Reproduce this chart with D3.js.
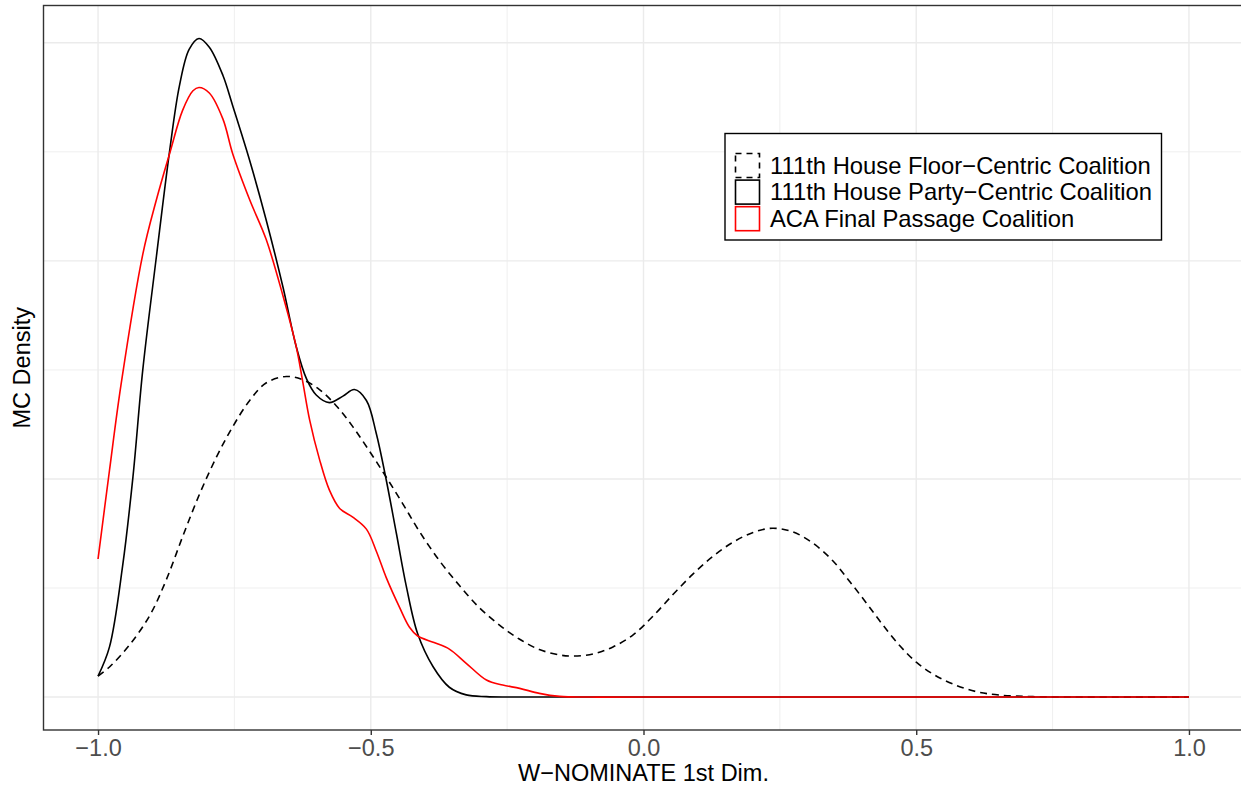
<!DOCTYPE html>
<html>
<head>
<meta charset="utf-8">
<script src="https://cdn.jsdelivr.net/npm/d3@7"></script>
<style>
  body { margin: 0; background: #fff; }
  text { font-family: "Liberation Sans", Arial, Helvetica, sans-serif; }
</style>
</head>
<body>
<div class="container"></div>
<script>
// series: [W-NOMINATE 1st dim, density]
const floorCentric = [[-1.000,0.096],[-0.979,0.138],[-0.942,0.24],[-0.905,0.375],[-0.875,0.537],[-0.845,0.735],[-0.814,0.93],[-0.783,1.10],[-0.753,1.24],[-0.722,1.36],[-0.692,1.44],[-0.655,1.47],[-0.625,1.455],[-0.594,1.41],[-0.563,1.335],[-0.533,1.24],[-0.503,1.13],[-0.472,1.01],[-0.441,0.885],[-0.411,0.76],[-0.374,0.625],[-0.337,0.51],[-0.301,0.41],[-0.264,0.33],[-0.227,0.265],[-0.191,0.218],[-0.154,0.193],[-0.129,0.188],[-0.092,0.198],[-0.056,0.23],[-0.019,0.285],[0.017,0.37],[0.054,0.47],[0.091,0.565],[0.127,0.645],[0.164,0.71],[0.201,0.755],[0.236,0.774],[0.274,0.757],[0.311,0.705],[0.347,0.625],[0.378,0.53],[0.409,0.43],[0.439,0.33],[0.470,0.235],[0.500,0.16],[0.531,0.105],[0.567,0.06],[0.610,0.025],[0.653,0.009],[0.714,0.002],[0.800,0],[1.000,0]];

const partyCentric = [[-1.000,0.096],[-0.979,0.23],[-0.955,0.60],[-0.936,1.01],[-0.918,1.50],[-0.893,2.02],[-0.869,2.50],[-0.851,2.80],[-0.833,2.97],[-0.815,3.02],[-0.796,2.98],[-0.771,2.85],[-0.753,2.71],[-0.722,2.46],[-0.692,2.19],[-0.661,1.88],[-0.637,1.61],[-0.618,1.46],[-0.600,1.385],[-0.576,1.35],[-0.551,1.38],[-0.530,1.41],[-0.508,1.36],[-0.490,1.21],[-0.472,1.00],[-0.453,0.75],[-0.435,0.51],[-0.414,0.29],[-0.386,0.14],[-0.356,0.045],[-0.325,0.01],[-0.288,0.002],[-0.250,0],[0.000,0],[1.000,0]];

const acaPassage = [[-1.000,0.633],[-0.979,1.04],[-0.958,1.43],[-0.918,2.03],[-0.893,2.28],[-0.869,2.49],[-0.845,2.69],[-0.826,2.78],[-0.815,2.795],[-0.796,2.77],[-0.771,2.65],[-0.753,2.49],[-0.722,2.28],[-0.692,2.10],[-0.661,1.84],[-0.637,1.61],[-0.625,1.45],[-0.612,1.27],[-0.594,1.09],[-0.576,0.95],[-0.557,0.865],[-0.533,0.825],[-0.508,0.77],[-0.490,0.67],[-0.472,0.55],[-0.447,0.41],[-0.429,0.32],[-0.414,0.28],[-0.384,0.25],[-0.356,0.22],[-0.325,0.155],[-0.288,0.078],[-0.258,0.055],[-0.227,0.04],[-0.191,0.017],[-0.154,0.003],[-0.100,0],[0.000,0],[1.000,0]];

const seriesNames = ["111th House Floor\u2212Centric Coalition", "111th House Party\u2212Centric Coalition", "ACA Final Passage Coalition"];
const xTicks = [-1, -0.5, 0, 0.5, 1];
const xMinor = [-0.75, -0.25, 0.25, 0.75];
const yMajor = [0, 1, 2, 3];
const yMinor = [0.5, 1.5, 2.5];

const series = [
    {name: seriesNames[0], values: floorCentric, color: "#000", dash: "7,5"},
    {name: seriesNames[1], values: partyCentric, color: "#000", dash: null},
    {name: seriesNames[2], values: acaPassage, color: "#ff0000", dash: null}
];

const W = 1241, H = 789;
const panel = {left: 43.5, top: 5.5, right: 1243.5, bottom: 730};

const svg = d3.select(".container")
    .append("svg")
    .attr("width", W)
    .attr("height", H);

const yMax = d3.max(series, s => d3.max(s.values, d => d[1]));

const xScale = d3.scaleLinear()
    .domain([-1.1, 1.1])
    .range([panel.left, panel.right]);

const yScale = d3.scaleLinear()
    .domain([-0.05 * yMax, 1.05 * yMax])
    .range([panel.bottom, panel.top]);

const fmt = d => d3.format(".1f")(d).replace("-", "\u2212");

// grid
svg.selectAll(".grid-minor-x")
    .data(xMinor)
    .join("line")
    .attr("x1", d => xScale(d)).attr("x2", d => xScale(d))
    .attr("y1", panel.top).attr("y2", panel.bottom)
    .attr("stroke", "#ebebeb").attr("stroke-width", 0.8);

svg.selectAll(".grid-minor-y")
    .data(yMinor)
    .join("line")
    .attr("x1", panel.left).attr("x2", panel.right)
    .attr("y1", d => yScale(d)).attr("y2", d => yScale(d))
    .attr("stroke", "#ebebeb").attr("stroke-width", 0.8);

svg.selectAll(".grid-major-x")
    .data(xTicks)
    .join("line")
    .attr("x1", d => xScale(d)).attr("x2", d => xScale(d))
    .attr("y1", panel.top).attr("y2", panel.bottom)
    .attr("stroke", "#ebebeb").attr("stroke-width", 1.4);

svg.selectAll(".grid-major-y")
    .data(yMajor)
    .join("line")
    .attr("x1", panel.left).attr("x2", panel.right)
    .attr("y1", d => yScale(d)).attr("y2", d => yScale(d))
    .attr("stroke", "#ebebeb").attr("stroke-width", 1.4);

// density lines
const line = d3.line()
    .x(d => xScale(d[0]))
    .y(d => yScale(d[1]))
    .curve(d3.curveCatmullRom.alpha(0.5));

svg.selectAll(".density")
    .data(series)
    .join("path")
    .classed("density", true)
    .attr("d", d => line(d.values))
    .attr("fill", "none")
    .attr("stroke", d => d.color)
    .attr("stroke-width", 1.6)
    .attr("stroke-dasharray", d => d.dash);

// panel border
svg.append("rect")
    .attr("x", panel.left)
    .attr("y", panel.top)
    .attr("width", panel.right - panel.left)
    .attr("height", panel.bottom - panel.top)
    .attr("fill", "none")
    .attr("stroke", "#333333")
    .attr("stroke-width", 1.4);

// x axis
const xAxis = svg.append("g")
    .attr("transform", `translate(0, ${panel.bottom})`)
    .call(d3.axisBottom(xScale).tickValues(xTicks).tickFormat(fmt).tickSize(5).tickPadding(4));

xAxis.select(".domain").remove();
xAxis.selectAll(".tick line").attr("stroke", "#333333").attr("stroke-width", 1.4);
xAxis.selectAll(".tick text")
    .attr("fill", "#4d4d4d")
    .attr("font-size", 23.5)
    .attr("font-family", "Liberation Sans, Arial, sans-serif");

svg.append("text")
    .attr("x", (panel.left + panel.right) / 2)
    .attr("y", 781)
    .attr("text-anchor", "middle")
    .attr("font-size", 23.5)
    .text("W\u2212NOMINATE 1st Dim.");

svg.append("text")
    .attr("transform", `translate(30, ${(panel.top + panel.bottom) / 2}) rotate(-90)`)
    .attr("text-anchor", "middle")
    .attr("font-size", 23.5)
    .text("MC Density");

// legend
const legend = svg.append("g").attr("transform", "translate(725, 133.5)");

legend.append("rect")
    .attr("width", 436.5)
    .attr("height", 106.5)
    .attr("fill", "#fff")
    .attr("stroke", "#000")
    .attr("stroke-width", 1.4);

const rows = legend.selectAll(".legend-row")
    .data(series)
    .join("g")
    .classed("legend-row", true)
    .attr("transform", (d, i) => `translate(10, ${19 + i * 26.6})`);

rows.append("rect")
    .attr("x", 0.5)
    .attr("y", 1)
    .attr("width", 24)
    .attr("height", 24)
    .attr("fill", "#fff")
    .attr("stroke", d => d.color)
    .attr("stroke-width", 1.6)
    .attr("stroke-dasharray", d => d.dash ? "6,5" : null);

rows.append("text")
    .attr("x", 35)
    .attr("y", 21)
    .attr("font-size", 23.8)
    .attr("fill", "#000")
    .text(d => d.name);
</script>
</body>
</html>
